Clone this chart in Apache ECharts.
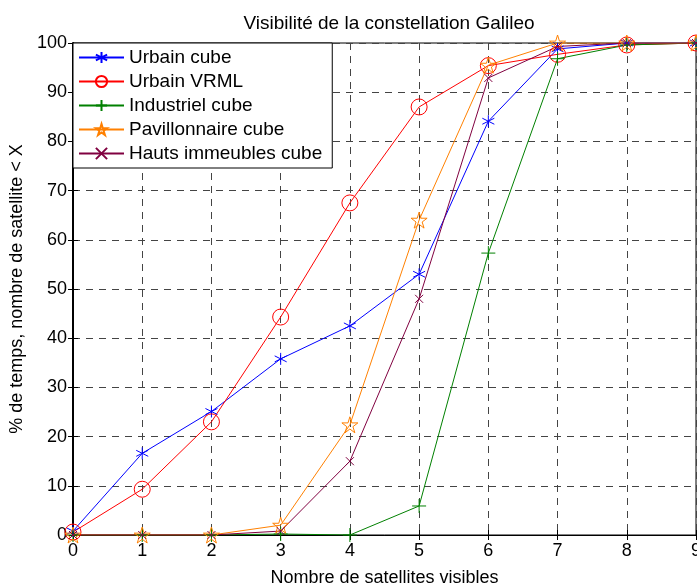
<!DOCTYPE html>
<html><head><meta charset="utf-8">
<script src="https://cdn.jsdelivr.net/npm/echarts@6/dist/echarts.min.js"></script>
<style>html,body{margin:0;padding:0;background:#fff}#c{width:697px;height:586px}</style>
</head><body><div id="c"></div>
<script>
const categories = [0,1,2,3,4,5,6,7,8,9];
const urbainCube = [0.8,16.6,25.1,35.8,42.5,53,84.1,98.8,100,100];
const urbainVRML = [0.6,9.3,23,44.3,67.5,87,95.4,97.7,99.6,100];
const industrielCube = [0,0,0,0.2,0,5.9,57.3,96.8,99.6,100];
const pavillonnaireCube = [0,0,0,2,22.4,64,95.5,100,100,100];
const hautsImmeubles = [0,0,0,0.8,15,48,92.9,99.3,100,100];
const yTicks = [0,10,20,30,40,50,60,70,80,90,100];
const names = ['Urbain cube','Urbain VRML','Industriel cube','Pavillonnaire cube','Hauts immeubles cube'];

const FONT = 'Liberation Sans';
const star = 'path://M0,-1L0.2245,-0.309L0.951,-0.309L0.363,0.118L0.588,0.809L0,0.382L-0.588,0.809L-0.363,0.118L-0.951,-0.309L-0.2245,-0.309Z';
const aster = 'path://M0,-1L0,1M-0.87,-0.5L0.87,0.5M-0.87,0.5L0.87,-0.5';
const plus = 'path://M0,-1L0,1M-1,0L1,0';
const cross = 'path://M-1,-1L1,1M-1,1L1,-1';

function mk(name, data, color, symbol, size){
  return {name, type:'line', data: categories.map((c,i)=>[c,data[i]]), symbol, symbolSize:size,
    lineStyle:{color, width:1}, itemStyle:{color:'rgba(0,0,0,0)', borderColor:color, borderWidth:1},
    emphasis:{disabled:true}, animation:false, z:3};
}
const chart = echarts.init(document.getElementById('c'), null, {renderer:'canvas'});
const axisTxt = {color:'#000', fontFamily:FONT, fontSize:18};
chart.setOption({
  backgroundColor:'#fff',
  animation:false,
  title:{text:'Visibilité de la constellation Galileo', left:384, textAlign:'center', top:9,
    textStyle:{color:'#000', fontFamily:FONT, fontSize:19, fontWeight:'normal'}},
  grid:{left:73, right:1, top:43, bottom:51, show:true, borderColor:'#000', borderWidth:1, backgroundColor:'#fff',
    containLabel:false, outerBoundsMode:'none'},
  legend:{orient:'vertical', left:73, top:43, backgroundColor:'#fff', borderColor:'#000', borderWidth:1,
    padding:[5,10,5,5], itemWidth:45, itemHeight:14, itemGap:5, data:names,
    textStyle:{color:'#000', fontFamily:FONT, fontSize:19, lineHeight:18}, z:10},
  xAxis:[{type:'value', min:0, max:9, interval:1, name:'Nombre de satellites visibles', nameLocation:'middle', nameGap:34,
    nameTextStyle:axisTxt, axisLabel:Object.assign({margin:7},axisTxt),
    axisLine:{show:true, lineStyle:{color:'#000', width:1}}, axisTick:{show:true, inside:true, length:5, lineStyle:{color:'#000'}},
    splitLine:{show:true, lineStyle:{color:'#444', type:[7,6], width:1}}},
    {type:'value', position:'top', min:0, max:9, interval:1, axisLabel:{show:false}, axisLine:{show:true, lineStyle:{color:'#000'}},
    axisTick:{show:true, inside:true, length:5, lineStyle:{color:'#000'}}, splitLine:{show:false}}],
  yAxis:[{type:'value', min:0, max:100, interval:10, name:'% de temps, nombre de satellite < X', nameLocation:'middle', nameGap:44,
    nameTextStyle:axisTxt, axisLabel:Object.assign({margin:6, formatter:v=>yTicks.includes(v)?String(v):''},axisTxt),
    axisLine:{show:true, lineStyle:{color:'#000', width:2}}, axisTick:{show:true, inside:true, length:5, lineStyle:{color:'#000'}},
    splitLine:{show:true, lineStyle:{color:'#444', type:[7,6], width:1}}},
    {type:'value', position:'right', min:0, max:100, interval:10, axisLabel:{show:false}, axisLine:{show:true, lineStyle:{color:'#000'}},
    axisTick:{show:true, inside:true, length:5, lineStyle:{color:'#000'}}, splitLine:{show:false}}],
  series:[
    mk(names[0], urbainCube, '#0000ff', aster, 12),
    mk(names[1], urbainVRML, '#ff0000', 'circle', 16),
    mk(names[2], industrielCube, '#008000', plus, 14),
    mk(names[3], pavillonnaireCube, '#ff8000', star, 16),
    mk(names[4], hautsImmeubles, '#800040', cross, 8)
  ]
});
</script></body></html>
